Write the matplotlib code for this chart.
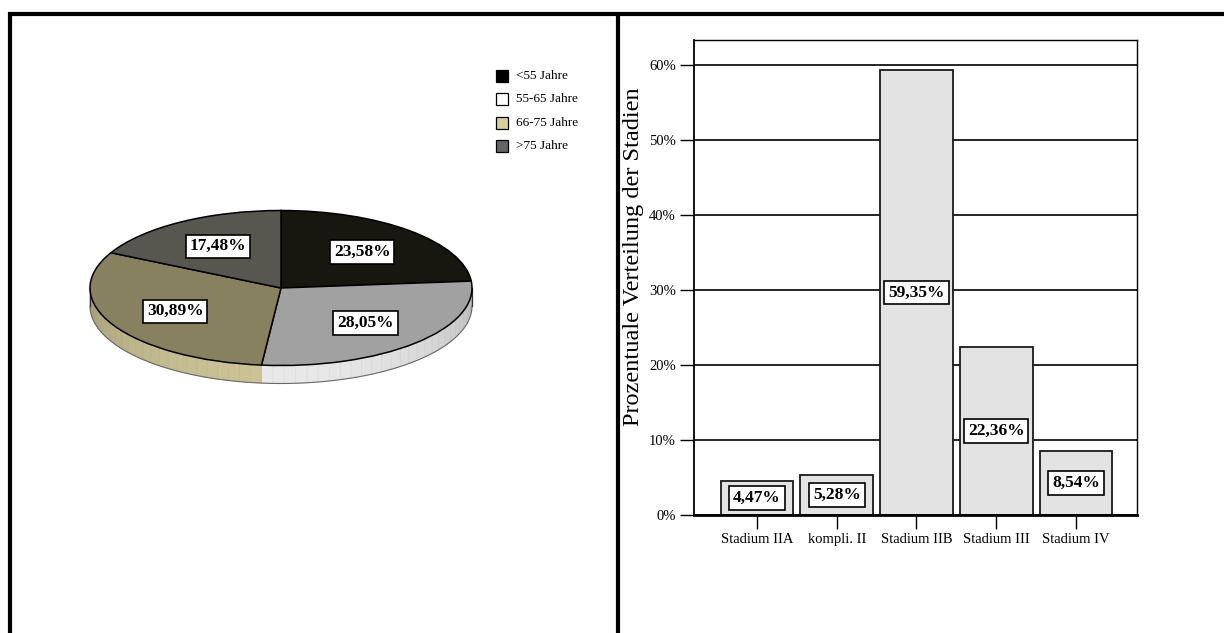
import numpy as np
import matplotlib
matplotlib.use("Agg")
import matplotlib.pyplot as plt
from matplotlib.patches import Wedge, Polygon, Rectangle
from matplotlib.transforms import Affine2D

# ---- data ----
age_labels = ["<55 Jahre", "55-65 Jahre", "66-75 Jahre", ">75 Jahre"]
age_shares = [23.58, 28.05, 30.89, 17.48]

stage_labels = ["Stadium IIA", "kompli. II", "Stadium IIB", "Stadium III", "Stadium IV"]
stage_shares = [4.47, 5.28, 59.35, 22.36, 8.54]
y_ticks = [0, 10, 20, 30, 40, 50, 60]
y_tick_labels = ["0%", "10%", "20%", "30%", "40%", "50%", "60%"]

# colours: legend swatch, lit top surface, rim
legend_colors = ["#000000", "#ffffff", "#d6ce9c", "#646464"]
top_colors = ["#17170f", "#a1a1a1", "#878160", "#57574f"]
rim_colors = ["#3a3a30", "#e8e8e8", "#cbc395", "#77776f"]

plt.rcParams["font.family"] = ["Liberation Serif", "DejaVu Serif"]

W, H = 1224, 633
fig = plt.figure(figsize=(W / 100, H / 100), dpi=100)

# full-figure overlay in pixel units (y up)
ov = fig.add_axes([0, 0, 1, 1], zorder=0)
ov.set_xlim(0, W)
ov.set_ylim(0, H)
ov.axis("off")


def py(y):
    return H - y


# table frame
ov.plot([8, W], [py(14), py(14)], color="black", lw=3.0, solid_capstyle="butt")
ov.plot([10, 10], [py(12), 0], color="black", lw=3.0, solid_capstyle="butt")
ov.plot([618, 618], [py(12), 0], color="black", lw=3.0, solid_capstyle="butt")

# ---- 3D-looking pie ----
cx, cy, a, b = 281, py(288), 191, 77.5
depth = 18 / b
unit = Affine2D().scale(a, b).translate(cx, cy) + ov.transData

bounds = []
start = 90.0
for v in age_shares:
    span = v / sum(age_shares) * 360.0
    bounds.append((start - span, start))
    start -= span

# rim (front half only, angles in [-180, 0])
for (t1, t2), rc in zip(bounds, rim_colors):
    for shift in (0, 360, -360):
        lo, hi = max(t1 + shift, -180), min(t2 + shift, 0)
        if hi <= lo:
            continue
        n = max(2, int(np.ceil((hi - lo) / 3.5)))
        edges = np.linspace(lo, hi, n + 1)
        base = np.array(matplotlib.colors.to_rgb(rc))
        for e1, e2 in zip(edges[:-1], edges[1:]):
            mid = np.radians((e1 + e2) / 2)
            f = 0.80 + 0.20 * (-np.sin(mid))
            col = np.clip(base * f, 0, 1)
            r1, r2 = np.radians(e1), np.radians(e2)
            pts = [(np.cos(r1), np.sin(r1)), (np.cos(r2), np.sin(r2)),
                   (np.cos(r2), np.sin(r2) - depth), (np.cos(r1), np.sin(r1) - depth)]
            ov.add_patch(Polygon(pts, closed=True, facecolor=col,
                                 edgecolor=np.clip(col * 0.96, 0, 1), lw=0.5,
                                 transform=unit, zorder=2))

# rim outline
th = np.radians(np.linspace(-180, 0, 200))
ov.plot(np.cos(th), np.sin(th) - depth, color="#6a6a6a", lw=0.8, transform=unit, zorder=3)
ov.plot([-1, -1], [0, -depth], color="#333333", lw=0.9, transform=unit, zorder=3)
ov.plot([1, 1], [0, -depth], color="#333333", lw=0.9, transform=unit, zorder=3)

# top surface
for (t1, t2), tc, v in zip(bounds, top_colors, age_shares):
    ov.add_patch(Wedge((0, 0), 1, t1, t2, facecolor=tc, edgecolor="black",
                       lw=1.1, transform=unit, zorder=4))
    mid = np.radians((t1 + t2) / 2)
    lx, ly = unit.transform((0.63 * np.cos(mid), 0.63 * np.sin(mid)))
    lx, ly = ov.transData.inverted().transform((lx, ly))
    ov.text(lx, ly, f"{v:.2f}".replace(".", ",") + "%", ha="center", va="center",
            fontsize=12.5, fontweight="bold", zorder=5,
            bbox=dict(boxstyle="square,pad=0.22", facecolor="white",
                      edgecolor="black", lw=1.2))

# legend
for i, (lab, col) in enumerate(zip(age_labels, legend_colors)):
    yc = py(76 + i * 23.4)
    ov.add_patch(Rectangle((496, yc - 6), 12, 12, facecolor=col,
                           edgecolor="black", lw=0.9, zorder=5))
    ov.text(516, yc, lab, ha="left", va="center", fontsize=9.5, zorder=5)

# ---- bar chart ----
left, right, top, bottom = 694, 1137, 40, 515
ax = fig.add_axes([left / W, (H - bottom) / H, (right - left) / W, (bottom - top) / H],
                  zorder=1)
x = np.arange(len(stage_labels))
ax.bar(x, stage_shares, width=0.91, color="#e3e3e3", edgecolor="#1a1a1a",
       lw=1.3, zorder=2)
for xi, v in zip(x, stage_shares):
    ax.text(xi, v / 2, f"{v:.2f}".replace(".", ",") + "%", ha="center", va="center",
            fontsize=12.5, fontweight="bold", zorder=4,
            bbox=dict(boxstyle="square,pad=0.22", facecolor="white",
                      edgecolor="black", lw=1.2))

ax.set_xlim(-0.79, len(stage_labels) - 1 + 0.765)
ax.set_ylim(0, 63.33)
ax.set_yticks(y_ticks)
ax.set_yticklabels(y_tick_labels, fontsize=10.5)
ax.set_xticks(x)
ax.set_xticklabels(stage_labels, fontsize=10.5)
ax.yaxis.grid(True, color="black", lw=1.2, zorder=1)
ax.set_axisbelow(True)
ax.tick_params(axis="both", direction="out", length=10, width=1.0, pad=3, colors="black")
for s in ("top", "right"):
    ax.spines[s].set_linewidth(1.0)
ax.spines["left"].set_linewidth(1.3)
ax.spines["bottom"].set_linewidth(2.0)
ax.set_ylabel("Prozentuale Verteilung der Stadien", fontsize=17.5)
ax.yaxis.set_label_coords(-0.112, 0.543)

fig.savefig("out.png", dpi=100)
